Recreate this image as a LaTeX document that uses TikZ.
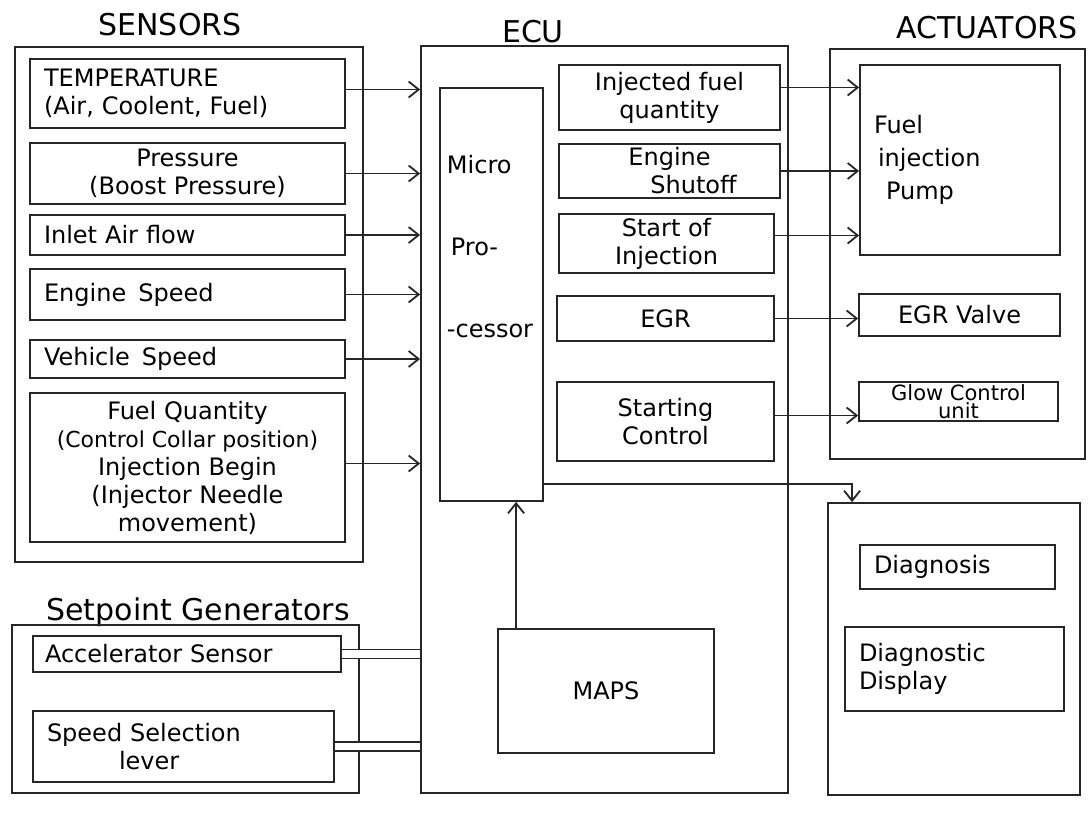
\documentclass[tikz,border=0pt]{standalone}
\usepackage{fontspec}
\setmainfont{DejaVu Sans}
\usetikzlibrary{arrows.meta,positioning}

\begin{document}
\begin{tikzpicture}[x=0.5pt, y=-0.5pt,
  grp/.style={draw=black!85, line width=0.9pt, inner sep=0pt},
  blk/.style={draw=black!85, line width=0.9pt, align=center,
    font=\fontsize{12}{14}\selectfont, inner sep=2pt},
  lblk/.style={blk, align=left, inner xsep=7pt, text width=#1},
  head/.style={font=\fontsize{15}{17}\selectfont},
  sig/.style={-{Straight Barb[length=5pt, width=8pt]}, line width=0.9pt, black!85},
  twin/.style={double, double distance=3.6pt, line width=0.8pt, draw=black!85},
]
  \useasboundingbox (0,0) rectangle (1091,839);
  \fill[white] (0,0) rectangle (1091,839);

  % Sensors
  \node[head] (senshead) at (170,25) {SENSORS};
  \node[grp, minimum width=174pt, minimum height=257.5pt] (sensors) at (189,304.5) {};
  \node[lblk=143.5pt, minimum height=34.5pt] (temp) at (187.5,93.5)
    {TEMPERATURE\\(Air, Coolent, Fuel)};
  \node[blk, minimum width=157.5pt, minimum height=30.5pt] (press) at (187.5,173.5)
    {Pressure\\(Boost Pressure)};
  \node[lblk=143.5pt, minimum height=20pt] (inlet) at (187.5,235) {Inlet Air flow};
  \node[lblk=143.5pt, minimum height=25.5pt] (engine) at (187.5,294.5) {Engine\enspace Speed};
  \node[lblk=143.5pt, minimum height=19pt] (vehicle) at (187.5,359) {Vehicle\enspace Speed};
  \node[blk, minimum width=157.5pt, minimum height=74.5pt] (fuelq) at (187.5,467.5)
    {Fuel Quantity\\{\fontsize{11}{14}\selectfont(Control Collar position)}\\
     Injection Begin\\(Injector Needle\\movement)};

  % Setpoint generators
  \node[head] (sethead) at (198,612) {Setpoint Generators};
  \node[grp, minimum width=173.5pt, minimum height=84pt] (setp) at (185.5,709) {};
  \node[lblk=142pt, minimum height=18pt, inner xsep=6pt] (accel) at (187,654) {Accelerator Sensor};
  \node[lblk=136.5pt, minimum height=35.5pt] (speedsel) at (183.5,746.5)
    {Speed Selection\\\qquad\quad lever};

  % ECU
  \node[head] (ecuhead) at (533,32) {ECU};
  \node[grp, minimum width=183.5pt, minimum height=373.5pt] (ecu) at (604.5,419.5) {};
  \node[grp, minimum width=51.5pt, minimum height=206.5pt] (micro) at (491.5,294.5) {};
  \node[align=left, font=\fontsize{12}{14}\selectfont] (microtxt) at (490,247)
    {Micro\\[27pt]\,Pro-\\[27pt]-cessor};
  \node[blk, minimum width=110.5pt, minimum height=32.5pt] (injq) at (669.5,97.5)
    {Injected fuel\\quantity};
  \node[blk, minimum width=110.5pt, minimum height=24pt] (shut) at (669.5,171)
    {Engine\\\qquad Shutoff};
  \node[blk, minimum width=107.5pt, minimum height=28.5pt] (soi) at (666.5,243.5)
    {Start of\\Injection};
  \node[blk, minimum width=108.5pt, minimum height=22.5pt] (egr) at (665.5,318.5) {EGR};
  \node[blk, minimum width=108.5pt, minimum height=39.5pt] (startc) at (665.5,421.5)
    {Starting\\Control};
  \node[blk, minimum width=108pt, minimum height=62pt] (maps) at (606,691) {MAPS};

  % Actuators
  \node[head] (acthead) at (987,28) {ACTUATORS};
  \node[grp, minimum width=127.5pt, minimum height=205pt] (act) at (957.5,254) {};
  \node[lblk=86pt, minimum height=95pt, font=\fontsize{12}{16.5}\selectfont] (pump) at (960,160)
    {Fuel\\\,injection\\\enspace Pump};
  \node[blk, minimum width=100.5pt, minimum height=21pt] (egrv) at (959.5,315) {EGR Valve};
  \node[blk, minimum width=99.5pt, minimum height=19.5pt, inner ysep=0pt,
    font=\fontsize{10.5}{9}\selectfont] (glow) at (958.5,401.5) {Glow Control\\unit};

  % Diagnosis
  \node[grp, minimum width=126pt, minimum height=146pt] (diag) at (954,649) {};
  \node[lblk=83.5pt, minimum height=22pt] (diagn) at (957.5,567) {Diagnosis};
  \node[lblk=95.5pt, minimum height=42pt] (ddisp) at (954.5,669) {Diagnostic\\Display};

  % Sensor inputs
  \foreach \s/\dy in {temp/2,press/0,inlet/0,engine/0,vehicle/0,fuelq/2}
    \draw[sig] ([yshift=\dy pt]\s.east) -- ([yshift=\dy pt]\s.east -| ecu.west);
  % Setpoint inputs
  \draw[twin] (accel.east) -- (accel.east -| ecu.west);
  \draw[twin] (speedsel.east) -- (speedsel.east -| ecu.west);
  % ECU outputs
  \foreach \s/\t/\dy in {injq/pump/5,shut/pump/0,soi/pump/4,egr/egrv/0,startc/glow/3}
    \draw[sig] ([yshift=\dy pt]\s.east) -- ([yshift=\dy pt]\s.east -| \t.west);
  % Maps and diagnosis
  \draw[sig] ([xshift=9.5pt]maps.north west) -- ([xshift=9.5pt]maps.north west |- micro.south);
  \draw[sig] ([yshift=9pt]micro.south east) -| ([xshift=12.5pt]diag.north west);
\end{tikzpicture}
\end{document}
